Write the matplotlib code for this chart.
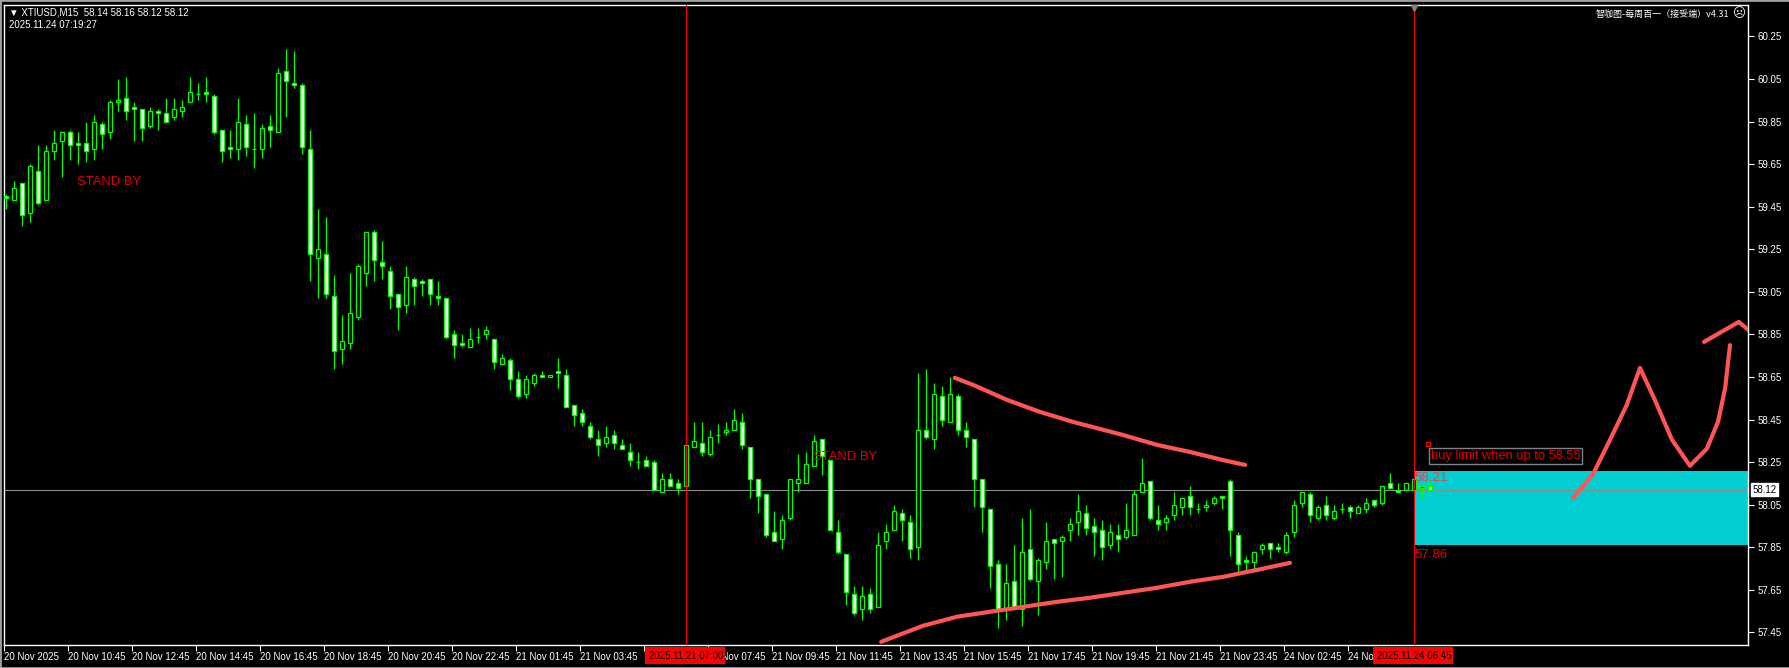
import matplotlib.pyplot as plt
from matplotlib.patches import Rectangle
import matplotlib.transforms as mtransforms

plt.rcParams['font.family'] = ['Liberation Sans', 'DejaVu Sans']

# XTIUSD M15 candles, 20 Nov 2025 08:45 .. 24 Nov 2025 07:15
opens = [59.50, 59.48, 59.56, 59.42, 59.62, 59.48, 59.71, 59.76, 59.80, 59.75,
         59.75, 59.72, 59.84, 59.80, 59.94, 59.96, 59.92, 59.91, 59.83, 59.90,
         59.89, 59.87, 59.90, 59.94, 59.98, 59.99, 59.97, 59.81, 59.73, 59.72,
         59.84, 59.72, 59.72, 59.83, 59.80, 60.09, 60.03, 60.02, 59.72, 59.21,
         59.23, 59.03, 58.78, 58.81, 58.93, 59.14, 59.33, 59.19, 59.15, 59.04,
         58.99, 59.11, 59.10, 59.11, 59.03, 59.02, 58.85, 58.81, 58.79, 58.84,
         58.85, 58.83, 58.71, 58.73, 58.64, 58.57, 58.62, 58.66, 58.65, 58.68,
         58.66, 58.52, 58.48, 58.42, 58.36, 58.34, 58.38, 58.33, 58.30, 58.25,
         58.26, 58.25, 58.11, 58.17, 58.15, 58.14, 58.32, 58.34, 58.29, 58.38,
         58.39, 58.40, 58.44, 58.32, 58.17, 58.10, 57.92, 57.89, 57.99, 58.15,
         58.15, 58.23, 58.36, 58.26, 57.92, 57.82, 57.63, 57.56, 57.63, 57.57,
         57.88, 57.93, 58.01, 57.97, 57.85, 58.40, 58.36, 58.56, 58.44, 58.56,
         58.40, 58.36, 58.17, 58.03, 57.77, 57.56, 57.69, 57.56, 57.84, 57.69,
         57.78, 57.89, 57.88, 57.93, 57.97, 58.01, 57.95, 57.93, 57.86, 57.91,
         57.90, 57.91, 58.11, 58.16, 57.98, 57.97, 58.00, 58.04, 58.09, 58.03,
         58.04, 58.06, 58.09, 58.16, 57.91, 57.79, 57.78, 57.84, 57.87, 57.85,
         57.83, 57.92, 58.06, 58.10, 57.99, 58.05, 57.99, 58.03, 58.04, 58.01,
         58.03, 58.07, 58.06, 58.15, 58.12, 58.12, 58.12, 58.13, 58.14]
highs = [59.51, 59.57, 59.56, 59.65, 59.74, 59.74, 59.81, 59.80, 59.81, 59.80,
         59.85, 59.88, 59.85, 59.95, 60.05, 60.06, 59.94, 59.91, 59.92, 59.91,
         59.96, 59.96, 59.95, 60.06, 60.03, 60.06, 59.98, 59.81, 59.81, 59.96,
         59.88, 59.89, 59.84, 59.88, 60.10, 60.19, 60.18, 60.03, 59.81, 59.44,
         59.40, 59.13, 58.94, 59.14, 59.18, 59.33, 59.34, 59.29, 59.17, 59.04,
         59.17, 59.12, 59.11, 59.11, 59.10, 59.02, 58.87, 58.85, 58.88, 58.88,
         58.89, 58.83, 58.76, 58.74, 58.68, 58.66, 58.67, 58.68, 58.66, 58.74,
         58.69, 58.52, 58.50, 58.44, 58.40, 58.42, 58.40, 58.36, 58.34, 58.30,
         58.28, 58.26, 58.20, 58.20, 58.17, 58.33, 58.44, 58.44, 58.40, 58.43,
         58.44, 58.50, 58.48, 58.32, 58.17, 58.10, 58.02, 58.00, 58.17, 58.29,
         58.30, 58.38, 58.36, 58.26, 57.98, 57.82, 57.67, 57.67, 57.66, 57.92,
         57.96, 58.05, 58.03, 58.00, 58.67, 58.69, 58.62, 58.61, 58.65, 58.57,
         58.44, 58.36, 58.17, 58.03, 57.79, 57.77, 57.86, 57.99, 58.03, 57.80,
         57.97, 57.89, 57.91, 57.99, 58.10, 58.05, 57.99, 57.98, 57.96, 57.96,
         58.06, 58.12, 58.27, 58.16, 58.05, 58.00, 58.11, 58.08, 58.14, 58.06,
         58.07, 58.09, 58.09, 58.17, 57.92, 57.81, 57.83, 57.87, 57.87, 57.87,
         57.92, 58.07, 58.11, 58.11, 58.05, 58.09, 58.05, 58.06, 58.05, 58.05,
         58.08, 58.07, 58.14, 58.20, 58.15, 58.15, 58.17, 58.14, 58.16]
lows = [59.44, 59.48, 59.36, 59.38, 59.46, 59.48, 59.67, 59.59, 59.67, 59.65,
        59.66, 59.67, 59.72, 59.77, 59.90, 59.86, 59.76, 59.76, 59.82, 59.81,
        59.85, 59.86, 59.87, 59.94, 59.95, 59.94, 59.79, 59.66, 59.68, 59.67,
        59.69, 59.63, 59.68, 59.73, 59.80, 59.87, 60.01, 59.70, 59.10, 59.02,
        59.02, 58.69, 58.71, 58.78, 58.92, 59.08, 59.10, 59.11, 58.97, 58.87,
        58.95, 58.99, 59.03, 58.99, 58.99, 58.83, 58.74, 58.79, 58.79, 58.81,
        58.83, 58.69, 58.71, 58.59, 58.55, 58.55, 58.61, 58.65, 58.65, 58.60,
        58.51, 58.42, 58.42, 58.36, 58.28, 58.32, 58.31, 58.31, 58.23, 58.22,
        58.23, 58.12, 58.11, 58.14, 58.10, 58.14, 58.32, 58.28, 58.28, 58.34,
        58.38, 58.40, 58.31, 58.08, 58.01, 57.90, 57.88, 57.84, 57.98, 58.11,
        58.15, 58.23, 58.19, 57.93, 57.82, 57.58, 57.53, 57.51, 57.54, 57.57,
        57.84, 57.93, 57.88, 57.80, 57.79, 58.36, 58.31, 58.42, 58.44, 58.38,
        58.32, 58.04, 57.92, 57.66, 57.47, 57.51, 57.56, 57.48, 57.69, 57.53,
        57.75, 57.70, 57.71, 57.88, 57.91, 57.91, 57.81, 57.79, 57.84, 57.83,
        57.89, 57.91, 58.11, 57.98, 57.93, 57.93, 57.98, 58.00, 58.00, 58.01,
        58.02, 58.05, 58.03, 57.81, 57.73, 57.74, 57.75, 57.82, 57.80, 57.83,
        57.82, 57.90, 58.04, 57.97, 57.98, 57.98, 57.98, 58.01, 57.99, 58.01,
        58.01, 58.04, 58.05, 58.13, 58.11, 58.12, 58.12, 58.08, 58.12]
closes = [59.49, 59.54, 59.41, 59.64, 59.47, 59.71, 59.75, 59.80, 59.74, 59.74,
          59.71, 59.85, 59.79, 59.94, 59.95, 59.90, 59.91, 59.82, 59.90, 59.89,
          59.85, 59.91, 59.92, 59.99, 59.98, 59.98, 59.80, 59.71, 59.72, 59.85,
          59.73, 59.72, 59.82, 59.81, 60.08, 60.04, 60.02, 59.73, 59.23, 59.25,
          59.04, 58.77, 58.82, 58.95, 59.17, 59.33, 59.20, 59.17, 59.03, 58.98,
          59.12, 59.08, 59.09, 59.04, 59.02, 58.84, 58.80, 58.80, 58.83, 58.84,
          58.87, 58.72, 58.74, 58.64, 58.56, 58.64, 58.66, 58.65, 58.66, 58.67,
          58.51, 58.47, 58.44, 58.37, 58.33, 58.37, 58.34, 58.31, 58.26, 58.25,
          58.23, 58.12, 58.17, 58.14, 58.13, 58.33, 58.35, 58.30, 58.37, 58.38,
          58.40, 58.45, 58.33, 58.17, 58.09, 57.91, 57.88, 57.98, 58.17, 58.17,
          58.24, 58.35, 58.28, 57.93, 57.83, 57.64, 57.54, 57.62, 57.56, 57.86,
          57.92, 58.02, 57.98, 57.84, 58.40, 58.37, 58.57, 58.45, 58.57, 58.40,
          58.37, 58.17, 58.04, 57.76, 57.56, 57.68, 57.56, 57.83, 57.70, 57.79,
          57.88, 57.87, 57.90, 57.96, 58.02, 57.94, 57.92, 57.85, 57.92, 57.89,
          57.93, 58.10, 58.15, 57.99, 57.96, 57.99, 58.05, 58.08, 58.04, 58.03,
          58.05, 58.08, 58.08, 57.93, 57.77, 57.78, 57.83, 57.86, 57.84, 57.84,
          57.91, 58.05, 58.11, 58.00, 58.04, 58.00, 58.02, 58.03, 58.02, 58.04,
          58.06, 58.05, 58.14, 58.13, 58.11, 58.15, 58.17, 58.14, 58.12]

# one label every 8 bars; the 05:45 label sits under the red date box and is not visible
time_labels = ["20 Nov 2025", "20 Nov 10:45", "20 Nov 12:45", "20 Nov 14:45",
               "20 Nov 16:45", "20 Nov 18:45", "20 Nov 20:45", "20 Nov 22:45",
               "21 Nov 01:45", "21 Nov 03:45", "", "21 Nov 07:45",
               "21 Nov 09:45", "21 Nov 11:45", "21 Nov 13:45", "21 Nov 15:45",
               "21 Nov 17:45", "21 Nov 19:45", "21 Nov 21:45", "21 Nov 23:45",
               "24 Nov 02:45", "24 Nov 04:45"]
bars_per_label = 8
price_ticks = [57.45, 57.65, 57.85, 58.05, 58.25, 58.45, 58.65, 58.85,
               59.05, 59.25, 59.45, 59.65, 59.85, 60.05, 60.25]

vline_bars = [85, 176]
vline_texts = ["2025.11.21 07:00", "2025.11.24 06:45"]
bid = 58.12
zone_low, zone_high = 57.86, 58.21

# hand drawn lines (bar index, price)
upper_x = [118.6, 120.9, 125.1, 129.25, 133.4, 136.75, 139.6, 143.9, 148.0, 152.1, 154.9]
upper_y = [58.646, 58.613, 58.543, 58.486, 58.439, 58.406, 58.378, 58.331, 58.298, 58.260, 58.237]
lower_x = [109.4, 114.6, 118.9, 123.0, 127.1, 131.4, 135.5, 139.6, 143.9, 148.0, 152.1, 156.4, 160.5]
lower_y = [57.406, 57.481, 57.524, 57.547, 57.570, 57.594, 57.613, 57.636, 57.660, 57.688, 57.711, 57.744, 57.777]
arrow_x = [195.9, 198.4, 200.5, 202.6, 204.25, 206.1, 208.25, 210.5, 212.6, 214.0, 214.9, 215.5]
arrow_y = [58.082, 58.195, 58.355, 58.519, 58.693, 58.543, 58.355, 58.233, 58.313, 58.439, 58.599, 58.80]
head_x = [212.25, 216.6, 218.4]
head_y = [58.815, 58.909, 58.853]

green = '#00ff00'
red = '#ff0000'
pen = '#ff5555'

fig = plt.figure(figsize=(17.9, 6.68), dpi=100, facecolor='black')
ax = fig.add_axes([4 / 1790, 23 / 668, 1744 / 1790, 640 / 668], facecolor='black')
ax.set_xlim(-0.25, 217.75)
ax.set_ylim(57.391, 60.398)

# target zone
ax.add_patch(Rectangle((vline_bars[1], zone_low), 217.75 - vline_bars[1], zone_high - zone_low,
                       facecolor='#00ced1', edgecolor='none', zorder=1))
ax.axhline(bid, color='#8c8c8c', lw=0.8, zorder=2)

# candles
n = len(opens)
ax.vlines(range(n), lows, highs, color=green, lw=0.9, zorder=4)
for i in range(n):
    o, c = opens[i], closes[i]
    if abs(c - o) < 0.005:
        ax.hlines(o, i - 0.3, i + 0.3, color=green, lw=1.0, zorder=5)
        continue
    face = 'white' if c < o else 'black'
    ax.add_patch(Rectangle((i - 0.3, min(o, c)), 0.6, abs(c - o), facecolor=face,
                           edgecolor=green, lw=0.9, zorder=5))

for b in vline_bars:
    ax.axvline(b, color=red, lw=0.8, zorder=6)

# drawings
ax.plot(upper_x, upper_y, color=pen, lw=3, solid_capstyle='round', zorder=7)
ax.plot(lower_x, lower_y, color=pen, lw=3, solid_capstyle='round', zorder=7)
ax.plot(arrow_x, arrow_y, color=pen, lw=3, solid_capstyle='round', solid_joinstyle='round', zorder=7)
ax.plot(head_x, head_y, color=pen, lw=3, solid_capstyle='round', solid_joinstyle='round', zorder=7)

# texts
ax.text(8.9, 59.567, 'STAND BY', color='#e00000', fontsize=9.4, va='center', ha='left', zorder=8)
ax.text(100.9, 58.275, 'STAND BY', color='#e00000', fontsize=9.4, va='center', ha='left', zorder=8)
ax.text(178.1, 58.28, 'buy limit when up to 58.55', color='#e00000', fontsize=9.3,
        va='center', ha='left', zorder=8,
        bbox=dict(boxstyle='square,pad=0.15', facecolor='black', edgecolor='#7a8290', lw=1))
ax.plot(177.75, 58.335, marker='s', ms=2.5, mfc='none', mec=red, mew=0.8, zorder=9)
ax.text(vline_bars[1], zone_high - 0.005, '58.21', color='#ff3b3b', fontsize=9.5,
        va='top', ha='left', zorder=8)
ax.text(vline_bars[1], zone_low - 0.016, '57.86', color='#e00000', fontsize=9.5,
        va='top', ha='left', zorder=8)
ax.plot(vline_bars[1], 60.385, marker='v', color='#808080', ms=5, clip_on=False, zorder=9)

# axes styling
for s in ax.spines.values():
    s.set_color('white')
    s.set_linewidth(1)
ax.set_xticks([k * bars_per_label - 0.2 for k in range(len(time_labels))])
ax.set_xticklabels(time_labels, ha='left', color='white', fontsize=7)
ax.tick_params(axis='x', direction='out', length=4, color='white', pad=1)
ax.yaxis.tick_right()
ax.set_yticks(price_ticks)
ax.set_yticklabels(['%.2f' % p for p in price_ticks], color='white', fontsize=7)
ax.tick_params(axis='y', direction='out', length=4, color='white', pad=3)

ax.annotate('%.2f' % bid, xy=(1, bid), xycoords=('axes fraction', 'data'),
            xytext=(3, 0), textcoords='offset points', ha='left', va='center',
            fontsize=7, color='black', annotation_clip=False,
            bbox=dict(boxstyle='square,pad=0.15', facecolor='white', edgecolor='white'))

# red date boxes on the time axis, covering the labels beneath them
trans = mtransforms.blended_transform_factory(ax.transData, ax.transAxes)
for b, t in zip(vline_bars, vline_texts):
    ax.add_patch(Rectangle((b - 5.1, -0.0295), 10.0, 0.027, transform=trans,
                           facecolor=red, edgecolor='none', clip_on=False, zorder=10))
    ax.text(b, -0.0165, t, transform=trans, ha='center', va='center', fontsize=7,
            color='black', clip_on=False, zorder=11)

# header
fig.text(9 / 1790, 1 - 12.5 / 668, '\u25bc XTIUSD,M15  58.14 58.16 58.12 58.12',
         color='white', fontsize=7, va='center', ha='left')
fig.text(9 / 1790, 1 - 25 / 668, '2025.11.24 07:19:27', color='white', fontsize=7,
         va='center', ha='left')
fig.text(1729 / 1790, 1 - 14 / 668, '智咖图-每周百一（接受端）v4.31', color='white',
         fontsize=6.5, va='center', ha='right', family=['Noto Sans CJK SC', 'DejaVu Sans'])
fig.text(1739 / 1790, 1 - 14 / 668, '\u2639', color='white', fontsize=9,
         va='center', ha='center', family=['DejaVu Sans'])

fig.add_artist(Rectangle((0, 0), 1, 1, transform=fig.transFigure, fill=False,
                         edgecolor='#a0a0a0', lw=2))

plt.savefig('out.png', dpi=100, facecolor='black')
plt.close()
